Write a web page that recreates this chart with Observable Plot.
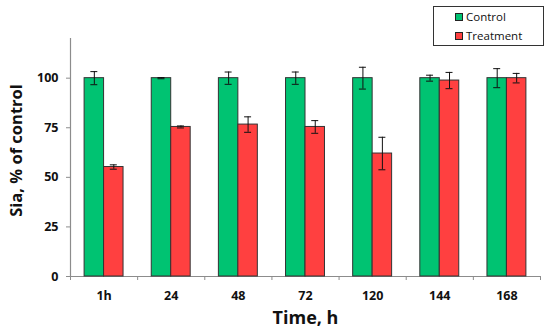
<!DOCTYPE html>
<html>
<head>
<meta charset="utf-8">
<script src="https://cdn.jsdelivr.net/npm/d3@7"></script>
<script src="https://cdn.jsdelivr.net/npm/@observablehq/plot@0.6"></script>
<style>
  html, body { margin: 0; padding: 0; background: #fff; }
  #wrap { position: relative; width: 550px; height: 334px; font-family: "Open Sans", sans-serif; }
  #legend { position: absolute; left: 433px; top: 6px; width: 111px; height: 40px; border: 1px solid #333; box-sizing: border-box; font-size: 11.5px; color: #111; }
  .item { position: absolute; left: 21px; display: flex; align-items: center; white-space: nowrap; }
  .sw { width: 6px; height: 6px; border: 1px solid #222; margin-right: 3px; }
</style>
</head>
<body>
<div id="wrap"></div>
<script>
const times = ["1h", "24", "48", "72", "120", "144", "168"];
const series = ["Control", "Treatment"];
const colors = ["#00C372", "#FF4040"];
const controlValues = [100, 100, 100, 100, 100, 100, 100];
const controlErrors = [3.3, 0.3, 3.1, 3.1, 5.5, 1.5, 4.8];
const treatmentValues = [55.2, 75.4, 76.6, 75.4, 62.0, 98.8, 100];
const treatmentErrors = [1.1, 0.5, 3.9, 3.2, 8.2, 4.1, 2.4];
const yTicks = [0, 25, 50, 75, 100];

const barW = 0.29;
const cap = 0.052;
const rows = [];
times.forEach((t, i) => {
  rows.push({i, time: t, series: "Control", value: controlValues[i], err: controlErrors[i], x1: i + 0.5 - barW, x2: i + 0.5});
  rows.push({i, time: t, series: "Treatment", value: treatmentValues[i], err: treatmentErrors[i], x1: i + 0.5, x2: i + 0.5 + barW});
});
rows.forEach(d => { d.cx = (d.x1 + d.x2) / 2; });

const chart = Plot.plot({
  width: 550,
  height: 334,
  marginLeft: 70,
  marginRight: 10,
  marginTop: 38,
  marginBottom: 58,
  style: {fontFamily: "Open Sans, sans-serif", fontSize: "12.5px", fontWeight: "bold", color: "#111"},
  x: {domain: [0, times.length]},
  y: {domain: [0, 120]},
  color: {domain: series, range: colors},
  marks: [
    Plot.ruleY([0], {stroke: "#8c8c8c", strokeWidth: 1.2}),
    Plot.ruleX([0], {stroke: "#8c8c8c", strokeWidth: 1.2}),
    Plot.axisY({ticks: yTicks, tickSize: 4, tickPadding: 8, stroke: "#8c8c8c", label: null, fontWeight: "bold"}),
    Plot.axisX({ticks: d3.range(times.length + 1), tickSize: 4, tickFormat: () => "", stroke: "#8c8c8c", label: null}),
    Plot.axisX({ticks: times.map((t, i) => i + 0.5), tickSize: 0, tickPadding: 15, tickFormat: v => times[Math.floor(v)], label: null, fontWeight: "bold"}),
    Plot.rectY(rows, {x1: "x1", x2: "x2", y: "value", fill: "series", stroke: "#333", strokeWidth: 1}),
    Plot.ruleX(rows, {x: "cx", y1: d => d.value - d.err, y2: d => d.value + d.err, stroke: "#111", strokeWidth: 1}),
    Plot.ruleY(rows, {y: d => d.value + d.err, x1: d => d.cx - cap, x2: d => d.cx + cap, stroke: "#111", strokeWidth: 1}),
    Plot.ruleY(rows, {y: d => d.value - d.err, x1: d => d.cx - cap, x2: d => d.cx + cap, stroke: "#111", strokeWidth: 1}),
    Plot.text(["Time, h"], {frameAnchor: "bottom", textAnchor: "middle", lineAnchor: "middle", dy: 42, fontSize: 18, fontWeight: "bold", fill: "#111"}),
    Plot.text(["Sia, % of control"], {frameAnchor: "left", textAnchor: "middle", lineAnchor: "middle", dx: -54, dy: -7, rotate: -90, fontSize: 16.5, fontWeight: "bold", fill: "#111"})
  ]
});

const wrap = document.getElementById("wrap");
wrap.appendChild(chart);
const legend = document.createElement("div");
legend.id = "legend";
series.forEach((s, k) => {
  const item = document.createElement("div");
  item.className = "item";
  item.style.top = (k === 0 ? 2 : 21) + "px";
  const sw = document.createElement("span");
  sw.className = "sw";
  sw.style.background = colors[k];
  const lab = document.createElement("span");
  lab.textContent = s;
  item.appendChild(sw);
  item.appendChild(lab);
  legend.appendChild(item);
});
wrap.appendChild(legend);
</script>
</body>
</html>
